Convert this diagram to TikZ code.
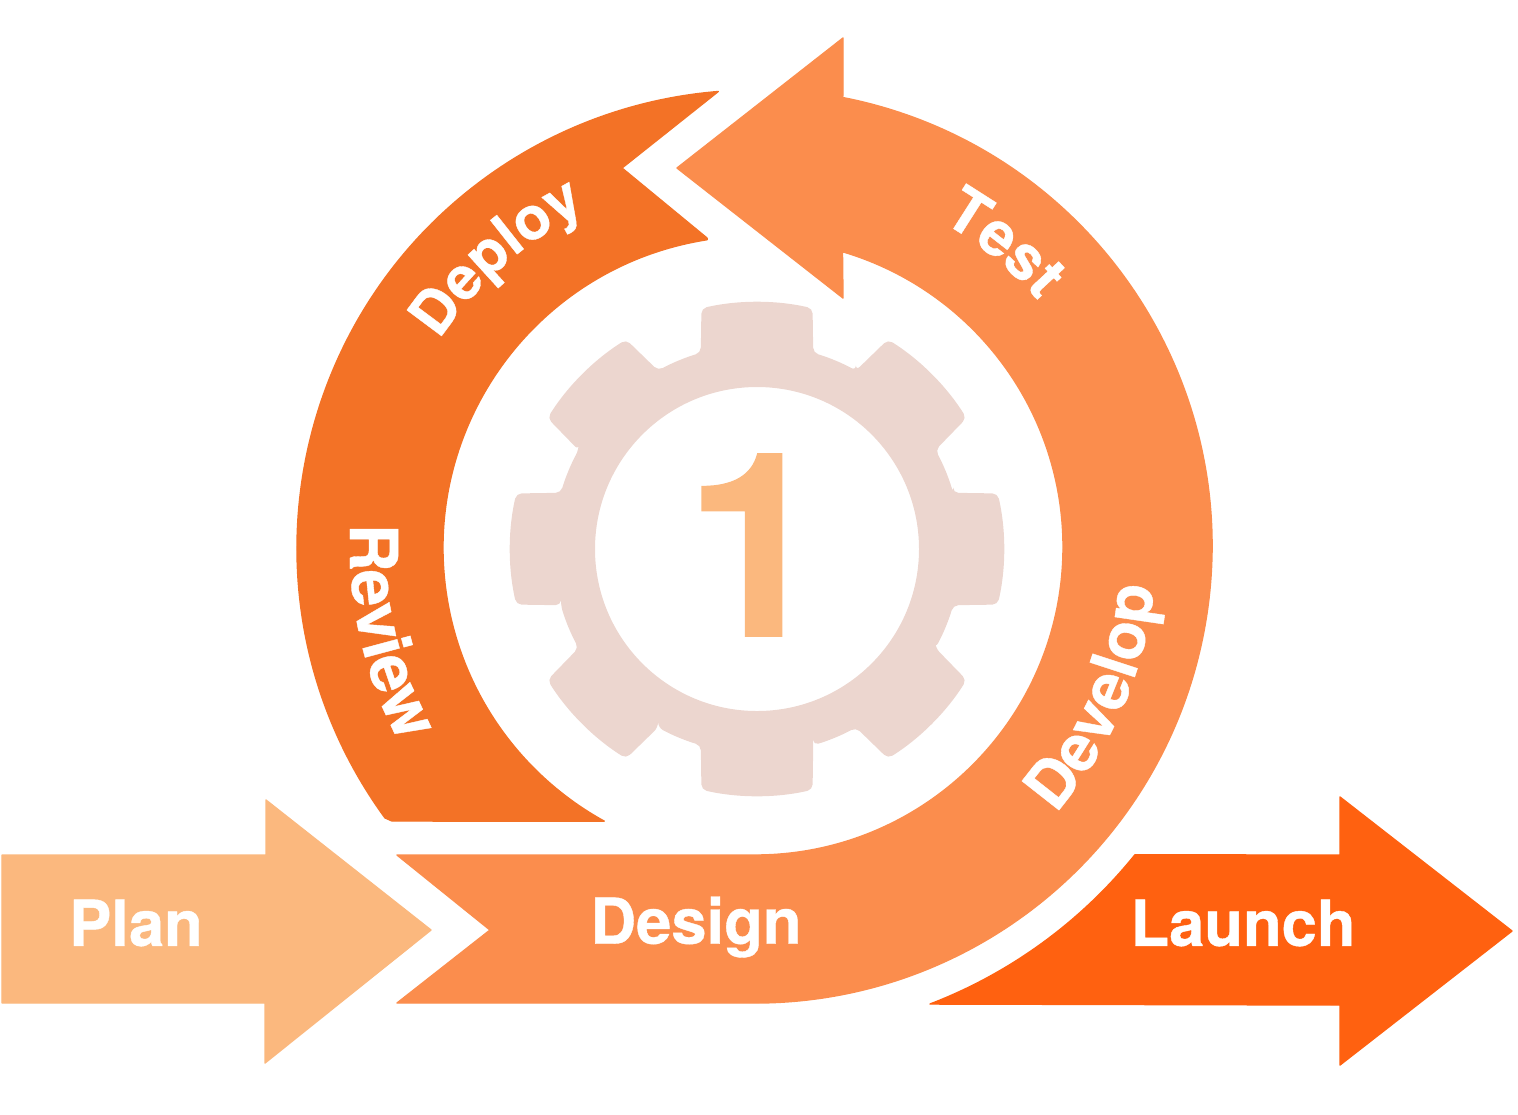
\documentclass[tikz,border=0pt]{standalone}
\usepackage{fontspec}
\setmainfont[BoldFeatures={FakeBold=0.6}]{TeX Gyre Heros}
\usepackage{xcolor}
\usetikzlibrary{calc, decorations.text}

\definecolor{planorange}{HTML}{FBB87E}
\definecolor{cycleorange}{HTML}{FB8D4D}
\definecolor{backorange}{HTML}{F37226}
\definecolor{launchorange}{HTML}{FF6110}
\definecolor{gearpink}{HTML}{ECD6CF}

\newcommand{\bandfont}{\bfseries\fontsize{18}{20}\selectfont\color{white}}
\newcommand{\arcfont}[1]{\bfseries\fontsize{#1}{20}\selectfont\color{white}}

\tikzset{
    bandlabel/.style={font=\bandfont, inner sep=0pt},
    arrowshape/.style={line join=round, draw=#1, fill=#1, line width=0.4pt},
    arclabel/.style={decorate, decoration={text along path, text align=center, text={#1}}}
}

\begin{document}
\begin{tikzpicture}[x=0.01cm, y=-0.01cm]
    \useasboundingbox (0, 0) rectangle (1518, 1114);
    \coordinate (hub) at (755, 548);
    \coordinate (outerhub) at (755, 546);
    \coordinate (innerhub) at (755, 547);
    \coordinate (gearhub) at (757, 549);

    % straight arrows
    \path[arrowshape=planorange] (2, 855) -- (266, 855) -- (266, 800) -- (431, 930) -- (265, 1063) -- (265, 1003) -- (2, 1003) -- cycle;
    \path[arrowshape=launchorange] (930, 1004) arc[start angle=69, end angle=38.9, radius=488] -- (1340, 855) -- (1340, 797) -- (1512, 931) -- (1340, 1065) -- (1340, 1005) -- cycle;

    % cycle bands
    \path[arrowshape=cycleorange] (397, 855) -- ($(innerhub)+(90:308)$) arc[start angle=90, end angle=-73.5, radius=308] -- (843, 298) -- (677, 168) -- (843, 38) -- (843, 95) -- ($(outerhub)+(-79:457)$) arc[start angle=-79, end angle=90, radius=457] -- (397, 1003) -- (490, 930) -- cycle;
    \path[arrowshape=backorange] (392, 821) -- ($(hub)+(143.9:458)$) arc[start angle=143.9, end angle=265.4, radius=458] -- (622, 168) -- (707, 238) -- ($(hub)+(261.2:312)$) arc[start angle=261.2, end angle=118.9, radius=312] -- cycle;

    % gear
    \fill[gearpink, even odd rule, rounded corners=1.5pt] ($(gearhub)+(-16:204)$)
        \foreach \a in {0, 45, ..., 315} {
            -- ($(gearhub)+(\a-16:204)$) -- ($(gearhub)+(\a-13:247)$)
            arc[start angle=\a-13, end angle=\a+13, radius=247]
            -- ($(gearhub)+(\a+16:204)$)
            arc[start angle=\a+16, end angle=\a+29, radius=204]
        } -- cycle
        (gearhub) circle[radius=162];
    \node[font=\bfseries\fontsize{73}{80}\selectfont, text=planorange, inner sep=0pt] (stepnum) at (756, 545) {1};

    % labels
    \node[bandlabel] (plan) at (136, 923) {Plan};
    \node[bandlabel] (design) at (696, 927) {Design};
    \node[bandlabel] (launch) at (1243, 923) {Launch};

    \path[arclabel={|\arcfont{16.9}|Deploy}] ($(hub)+(183.4:378)$) arc[start angle=183.4, end angle=273.4, radius=378];
    \path[arclabel={|\arcfont{17.5}|Test}] ($(hub)+(-90.7:376)$) arc[start angle=-90.7, end angle=-10.7, radius=376];
    \path[arclabel={|\arcfont{18.8}|Review}] ($(hub)+(212.3:405)$) arc[start angle=212.3, end angle=122.3, radius=405];
    \path[arclabel={|\arcfont{18.4}|Develop}] ($(hub)+(71.5:401)$) arc[start angle=71.5, end angle=-24.5, radius=401];
\end{tikzpicture}
\end{document}
